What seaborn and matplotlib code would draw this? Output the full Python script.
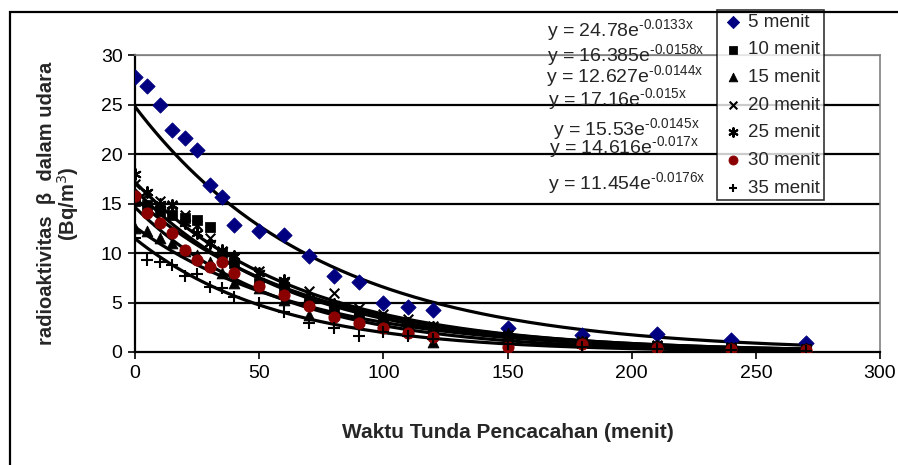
import numpy as np
import pandas as pd
import seaborn as sns
import matplotlib.pyplot as plt
from matplotlib.patches import Rectangle

# waktu tunda pencacahan (menit)
waktu = [0, 5, 10, 15, 20, 25, 30, 35, 40, 50, 60, 70, 80, 90, 100, 110, 120, 150, 180, 210, 240, 270]

# radioaktivitas beta (Bq/m3) per lama sampling
r5 = [27.8, 26.9, 25.0, 22.4, 21.6, 20.4, 16.9, 15.7, 12.8, 12.2, 11.8, 9.7, 7.7, 7.1, 4.9, 4.5, 4.2, 2.4, 1.7, 1.8, 1.2, 0.9]
r10 = [15.3, 14.8, 14.2, 13.8, 13.5, 13.3, 12.6, 10.0, 9.0, 7.0, 6.5, 5.2, 4.3, 3.6, 3.2, 2.6, 2.2, 1.4, 0.9, 0.6, 0.4, 0.3]
r15 = [12.5, 12.2, 11.5, 11.0, 10.2, 9.8, 9.1, 8.0, 7.0, 6.5, 5.3, 3.7, 3.8, 3.2, 3.0, 2.4, 1.0, 1.9, 1.0, 0.6, 0.4, 0.3]
r20 = [17.0, 16.0, 15.3, 14.8, 13.8, 12.8, 11.5, 10.2, 9.5, 8.2, 7.0, 6.2, 6.0, 4.4, 3.8, 3.3, 2.6, 1.7, 1.1, 0.7, 0.5, 0.3]
r25 = [18.0, 16.2, 15.0, 14.8, 13.0, 12.0, 11.0, 10.3, 9.7, 8.0, 7.3, 5.5, 4.8, 4.0, 3.4, 2.9, 2.5, 1.5, 1.0, 0.6, 0.4, 0.3]
r30 = [15.8, 14.0, 13.0, 12.0, 10.3, 9.3, 8.6, 9.1, 8.0, 6.7, 5.8, 4.6, 3.5, 2.9, 2.4, 1.9, 1.5, 0.5, 0.8, 0.4, 0.3, 0.2]
r35 = [11.5, 9.3, 9.1, 8.8, 7.7, 7.9, 6.6, 6.5, 5.6, 4.9, 4.0, 2.9, 2.4, 1.6, 2.0, 1.6, 1.3, 0.8, 0.5, 0.3, 0.2, 0.1]

labels = ['5 menit', '10 menit', '15 menit', '20 menit', '25 menit', '30 menit', '35 menit']
series = [r5, r10, r15, r20, r25, r30, r35]

# koefisien trendline eksponensial (a, b) untuk y = a e^(bx)
fit_a = [24.78, 16.385, 12.627, 17.16, 15.53, 14.616, 11.454]
fit_b = [-0.0133, -0.0158, -0.0144, -0.015, -0.0145, -0.017, -0.0176]
fit_text = ['24.78', '16.385', '12.627', '17.16', '15.53', '14.616', '11.454']
fit_exp = ['-0.0133x', '-0.0158x', '-0.0144x', '-0.015x', '-0.0145x', '-0.017x', '-0.0176x']

sns.set_style('white')
plt.rcParams['font.family'] = ['Liberation Sans', 'DejaVu Sans']

W, H = 898, 465
fig = plt.figure(figsize=(W / 100, H / 100), dpi=100)
ax = fig.add_axes([135 / W, 1 - 352 / H, 745 / W, 297 / H])

markers = ['D', 's', '^', 'x', (6, 2, 0), 'o', '+']
colors = ['#000080', 'black', 'black', 'black', 'black', '#8B0000', 'black']
sizes = [60, 48, 60, 48, 60, 65, 65]

# trendline
xfit = np.linspace(0, 270, 200)
for a, b in zip(fit_a, fit_b):
    sns.lineplot(x=xfit, y=a * np.exp(b * xfit), color='black', lw=2.3, ax=ax, legend=False, zorder=2)

for vals, lab, m, c, s in zip(series, labels, markers, colors, sizes):
    df = pd.DataFrame({'waktu': waktu, 'nilai': vals})
    kw = dict(edgecolor=c) if m not in ('x', '+', (6, 2, 0)) else dict(linewidth=1.5)
    sns.scatterplot(data=df, x='waktu', y='nilai', marker=m, color=c, s=s,
                    label=lab, ax=ax, zorder=3, **kw)

ax.set_xlim(0, 300)
ax.set_ylim(0, 30)
ax.set_xticks(range(0, 301, 50))
ax.set_yticks(range(0, 31, 5))
ax.tick_params(axis='both', direction='out', length=5, width=1.2, labelsize=14, colors='black',
               left=True, bottom=True, pad=4)
for y in range(5, 30, 5):
    ax.axhline(y, color='black', lw=1.6, zorder=1)
ax.axhline(30, color='#808080', lw=1.6, zorder=1)
for side in ['top', 'right']:
    ax.spines[side].set_color('#808080')
    ax.spines[side].set_linewidth(1.2)
for side in ['left', 'bottom']:
    ax.spines[side].set_color('black')
    ax.spines[side].set_linewidth(1.6)

ax.set_xlabel('Waktu Tunda Pencacahan (menit)', fontsize=15, fontweight='bold', labelpad=30)
ax.set_ylabel('radioaktivitas  β  dalam udara\n(Bq/m$^{3}$)', fontsize=14.5, fontweight='bold',
              labelpad=14, linespacing=0.95)

leg = ax.legend(loc='upper left', bbox_to_anchor=(717 / W, 1 - 10 / H), bbox_transform=fig.transFigure,
                frameon=True, fancybox=False, edgecolor='black', fontsize=13.5, labelspacing=0.56,
                handletextpad=0.15, handlelength=1.3, borderpad=0.2, borderaxespad=0, markerscale=0.8)
leg.get_frame().set_linewidth(1.2)
leg.set_zorder(5)

eq_pos = [(547, 31), (547, 56), (546, 77), (548, 100), (553, 130), (549, 148), (548, 184)]
for (px, py), t, e in zip(eq_pos, fit_text, fit_exp):
    fig.text(px / W, 1 - py / H, 'y = ' + t + 'e$^{\\mathregular{' + e.replace('-', '\u2010') + '}}$',
             fontsize=14, ha='left', va='center', zorder=6)

# bingkai gambar
fig.patches.append(Rectangle((10 / W, -0.2), 1.2, 1.2 - 12 / H, transform=fig.transFigure,
                             fill=False, edgecolor='black', lw=1.6))

fig.savefig('out.png', dpi=100)
